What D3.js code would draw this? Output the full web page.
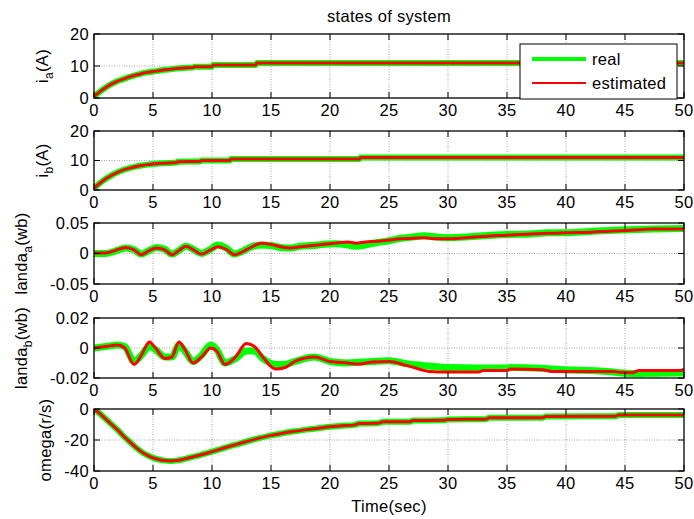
<!DOCTYPE html>
<html>
<head>
<meta charset="utf-8">
<script src="https://cdn.jsdelivr.net/npm/d3@7/dist/d3.min.js"></script>
<style>
  body { margin: 0; background: #fff; }
  text { font-family: "Liberation Sans", Arial, sans-serif; fill: #000; letter-spacing: 0.3px; }
</style>
</head>
<body>
<div id="chart"></div>
<script>
// ---- data ----
var xTicks = [0, 5, 10, 15, 20, 25, 30, 35, 40, 45, 50];

// i_a : real and estimated lie on top of each other
var iaTime = [0, 0.5, 1, 1.5, 2, 2.5, 3, 3.5, 4, 4.5, 5, 5.5, 6, 6.5, 7, 7.5, 8.4, 8.5, 10, 10.1, 13.7, 13.8, 50];
var iaValues = [0.5, 2.0, 3.3, 4.4, 5.3, 5.9, 6.6, 7.1, 7.6, 8.0, 8.3, 8.5, 8.8, 9.0, 9.2, 9.4, 9.5, 9.8, 9.8, 10.3, 10.3, 10.9, 10.9];

// i_b
var ibTime = [0, 0.5, 1, 1.5, 2, 2.5, 3, 3.5, 4, 4.5, 5, 5.5, 6, 7, 7.1, 9, 9.1, 11.5, 11.6, 22.5, 22.6, 50];
var ibValues = [0.6, 2.3, 3.8, 5.0, 6.0, 6.8, 7.4, 7.9, 8.3, 8.6, 8.8, 9.0, 9.1, 9.3, 9.6, 9.7, 10.0, 10.0, 10.5, 10.5, 11.0, 11.0];

// landa_a
var laTime = [0, 1, 1.8, 2.7, 3.4, 4.0, 4.6, 5.3, 6.0, 6.6, 7.2, 7.8, 8.5, 9.1, 9.8, 10.5, 11.2, 11.9, 12.5, 13.2,
  14.2, 15.0, 15.8, 16.7, 17.5, 18.5, 19.5, 20.5, 21.5, 22.2, 23, 24, 25, 26, 27, 28, 29, 30, 31.5, 33,
  35, 37, 38.5, 40, 42, 44, 45.5, 47.3, 50];
var laReal = [0.0, 0.0, 0.004, 0.009, 0.006, -0.001, 0.004, 0.010, 0.007, -0.001, 0.005, 0.012, 0.006, 0.000, 0.006, 0.014, 0.009, -0.001, 0.003, 0.010,
  0.014, 0.013, 0.010, 0.009, 0.012, 0.013, 0.015, 0.016, 0.014, 0.012, 0.014, 0.018, 0.021, 0.025, 0.027, 0.029, 0.027, 0.026, 0.027, 0.029,
  0.031, 0.032, 0.034, 0.034, 0.036, 0.038, 0.039, 0.040, 0.041];
var laEstimated = [0.001, 0.001, 0.005, 0.010, 0.006, -0.002, 0.004, 0.009, 0.006, -0.002, 0.005, 0.012, 0.005, -0.001, 0.005, 0.011, 0.007, -0.002, 0.002, 0.009,
  0.017, 0.015, 0.011, 0.009, 0.011, 0.013, 0.015, 0.017, 0.019, 0.017, 0.019, 0.020, 0.022, 0.024, 0.025, 0.026, 0.024, 0.024, 0.026, 0.028,
  0.030, 0.032, 0.033, 0.034, 0.035, 0.037, 0.038, 0.040, 0.040];

// landa_b
var lbTime = [0, 1, 2, 2.6, 3.4, 4.0, 4.7, 5.2, 6.0, 6.6, 7.2, 7.7, 8.4, 9.1, 9.9, 10.4, 11.1, 12.0, 12.9, 13.6,
  14.3, 15.4, 16.2, 17.0, 18.7, 20.0, 21.5, 22.5, 23.6, 25, 26.5, 28.4, 30, 32.6, 33, 35, 35.3, 38, 38.8, 44,
  44.5, 45.6, 46.2, 49.7, 50];
var lbReal = [0.000, 0.001, 0.002, 0.001, -0.009, -0.005, 0.001, -0.001, -0.006, -0.006, 0.002, -0.002, -0.009, -0.005, 0.002, -0.001, -0.010, -0.007, -0.002, -0.002,
  -0.007, -0.011, -0.011, -0.009, -0.006, -0.009, -0.010, -0.0095, -0.009, -0.0085, -0.0105, -0.012, -0.013, -0.0133, -0.0133, -0.0133, -0.013, -0.0135, -0.014, -0.016,
  -0.0165, -0.017, -0.017, -0.0167, -0.0165];
var lbEstimated = [0.000, 0.001, 0.002, 0.000, -0.011, -0.005, 0.004, 0.000, -0.007, -0.006, 0.004, -0.001, -0.010, -0.006, 0.000, -0.002, -0.011, -0.006, 0.003, 0.001,
  -0.006, -0.014, -0.013, -0.009, -0.006, -0.009, -0.010, -0.0107, -0.0093, -0.009, -0.0116, -0.0156, -0.016, -0.016, -0.015, -0.015, -0.014, -0.0145, -0.0156, -0.0156,
  -0.0162, -0.0165, -0.015, -0.015, -0.014];

// omega : real and estimated lie on top of each other
var omTime = [0, 0.5, 1, 1.5, 2, 2.5, 3, 3.5, 4, 4.5, 5, 5.5, 6, 6.5, 7, 7.5, 8, 9, 10, 11, 12, 13, 14, 15, 16, 17, 18, 19, 20, 21, 22,
  22.5, 24, 24.5, 26.8, 27, 29.6, 30, 33.2, 33.5, 38, 38.3, 44.2, 44.5, 50];
var omValues = [0, -3, -6.5, -10, -13.5, -17.5, -21, -24.5, -27.5, -29.8, -31.5, -32.6, -33.3, -33.5, -33.3, -32.6, -31.6, -29.7, -27.5, -25.2, -23, -20.8, -18.8, -17, -15.6, -14.4, -13.3, -12.4, -11.5, -10.8, -10.4,
  -9.4, -9.2, -8.3, -8.2, -7.4, -7.3, -6.7, -6.6, -5.7, -5.6, -4.8, -4.6, -3.8, -3.8];

var legendLabels = ["real", "estimated"];

// ---- layout ----
var W = 694, H = 519;
var x0 = 94, x1 = 684;
var font = 16.5;

var panels = [
  { top: 34,  bottom: 98,  domain: [0, 20],        ticks: [0, 10, 20],          labels: ["0", "10", "20"],
    name: "i", sub: "a", unit: "(A)", labelX: 48, time: iaTime, real: iaValues, est: iaValues, gw: 6 },
  { top: 131, bottom: 190, domain: [0, 20],        ticks: [0, 10, 20],          labels: ["0", "10", "20"],
    name: "i", sub: "b", unit: "(A)", labelX: 48, time: ibTime, real: ibValues, est: ibValues, gw: 6 },
  { top: 223, bottom: 284, domain: [-0.05, 0.05],  ticks: [-0.05, 0, 0.05],     labels: ["-0.05", "0", "0.05"],
    name: "landa", sub: "a", unit: "(wb)", labelX: 27, time: laTime, real: laReal, est: laEstimated, gw: 7 },
  { top: 318, bottom: 378, domain: [-0.02, 0.02],  ticks: [-0.02, 0, 0.02],     labels: ["-0.02", "0", "0.02"],
    name: "landa", sub: "b", unit: "(wb)", labelX: 27, time: lbTime, real: lbReal, est: lbEstimated, gw: 7 },
  { top: 409, bottom: 471, domain: [-40, 0],       ticks: [-40, -20, 0],        labels: ["-40", "-20", "0"],
    name: "omega", sub: "", unit: "(r/s)", labelX: 51, time: omTime, real: omValues, est: omValues, gw: 6 }
];

var svg = d3.select("#chart").append("svg")
    .attr("width", W)
    .attr("height", H);

var x = d3.scaleLinear().domain([0, 50]).range([x0, x1]);
var tickLen = 6;

panels.forEach(function(p, i) {
  var y = d3.scaleLinear().domain(p.domain).range([p.bottom, p.top]);
  var g = svg.append("g");

  g.append("clipPath").attr("id", "clip" + i)
    .append("rect")
      .attr("x", x0).attr("y", p.top)
      .attr("width", x1 - x0).attr("height", p.bottom - p.top);

  g.append("rect")
      .attr("x", x0).attr("y", p.top)
      .attr("width", x1 - x0).attr("height", p.bottom - p.top)
      .attr("fill", "#fff");

  // dotted grid
  g.selectAll(".vgrid")
    .data(xTicks.slice(1, -1))
    .enter().append("line")
      .attr("x1", function(d) { return x(d); })
      .attr("x2", function(d) { return x(d); })
      .attr("y1", p.top).attr("y2", p.bottom)
      .attr("stroke", "#808080").attr("stroke-width", 0.7)
      .attr("stroke-dasharray", "1,1.5");
  g.selectAll(".hgrid")
    .data(p.ticks.slice(1, -1))
    .enter().append("line")
      .attr("x1", x0).attr("x2", x1)
      .attr("y1", function(d) { return y(d); })
      .attr("y2", function(d) { return y(d); })
      .attr("stroke", "#808080").attr("stroke-width", 0.7)
      .attr("stroke-dasharray", "1,1.5");

  var line = d3.line()
      .x(function(d) { return x(d[0]); })
      .y(function(d) { return y(d[1]); })
      .curve(d3.curveMonotoneX);

  var lines = g.append("g").attr("clip-path", "url(#clip" + i + ")");
  lines.append("path")
      .datum(d3.zip(p.time, p.real))
      .attr("d", line)
      .attr("fill", "none")
      .attr("stroke", "#00ff00")
      .attr("stroke-width", p.gw)
      .attr("stroke-linejoin", "round");
  lines.append("path")
      .datum(d3.zip(p.time, p.est))
      .attr("d", line)
      .attr("fill", "none")
      .attr("stroke", "#ff0000")
      .attr("stroke-width", 3)
      .attr("stroke-linejoin", "round");

  // inside ticks on all four sides
  var tk = g.append("g").attr("stroke", "#000").attr("stroke-width", 1);
  xTicks.forEach(function(t) {
    tk.append("line").attr("x1", x(t)).attr("x2", x(t)).attr("y1", p.bottom).attr("y2", p.bottom - tickLen);
    tk.append("line").attr("x1", x(t)).attr("x2", x(t)).attr("y1", p.top).attr("y2", p.top + tickLen);
  });
  p.ticks.forEach(function(t) {
    tk.append("line").attr("x1", x0).attr("x2", x0 + tickLen).attr("y1", y(t)).attr("y2", y(t));
    tk.append("line").attr("x1", x1).attr("x2", x1 - tickLen).attr("y1", y(t)).attr("y2", y(t));
  });

  g.append("rect")
      .attr("x", x0).attr("y", p.top)
      .attr("width", x1 - x0).attr("height", p.bottom - p.top)
      .attr("fill", "none")
      .attr("stroke", "#000")
      .attr("stroke-width", 1.3);

  // tick labels
  g.selectAll(".xl")
    .data(xTicks)
    .enter().append("text")
      .attr("x", function(d) { return x(d); })
      .attr("y", p.bottom + 18)
      .attr("text-anchor", "middle")
      .attr("font-size", font)
      .text(function(d) { return d; });
  g.selectAll(".yl")
    .data(p.ticks)
    .enter().append("text")
      .attr("x", x0 - 5)
      .attr("y", function(d) { return y(d); })
      .attr("dy", "0.36em")
      .attr("text-anchor", "end")
      .attr("font-size", font)
      .text(function(d, j) { return p.labels[j]; });

  // y label
  var cy = (p.top + p.bottom) / 2;
  var lab = g.append("text")
      .attr("transform", "translate(" + p.labelX + "," + cy + ") rotate(-90)")
      .attr("text-anchor", "middle")
      .attr("font-size", font);
  lab.append("tspan").text(p.name);
  if (p.sub) {
    lab.append("tspan").attr("dy", 5).attr("font-size", 12).text(p.sub);
    lab.append("tspan").attr("dy", -5).text(p.unit);
  } else {
    lab.append("tspan").text(p.unit);
  }
});

// legend in the first panel
var lg = svg.append("g");
lg.append("rect")
    .attr("x", 520).attr("y", 44)
    .attr("width", 157).attr("height", 55)
    .attr("fill", "#fff")
    .attr("stroke", "#000")
    .attr("stroke-width", 1);
var legendColors = ["#00ff00", "#ff0000"];
var legendWidths = [4, 2];
legendLabels.forEach(function(l, i) {
  var yy = 59 + i * 24;
  lg.append("line")
      .attr("x1", 532).attr("x2", 586)
      .attr("y1", yy).attr("y2", yy)
      .attr("stroke", legendColors[i])
      .attr("stroke-width", legendWidths[i]);
  lg.append("text")
      .attr("x", 592).attr("y", yy)
      .attr("dy", "0.36em")
      .attr("font-size", font)
      .text(l);
});

svg.append("text")
    .attr("x", 389).attr("y", 22)
    .attr("text-anchor", "middle")
    .attr("font-size", font)
    .text("states of system");

svg.append("text")
    .attr("x", 389).attr("y", 512)
    .attr("text-anchor", "middle")
    .attr("font-size", font)
    .text("Time(sec)");
</script>
</body>
</html>
